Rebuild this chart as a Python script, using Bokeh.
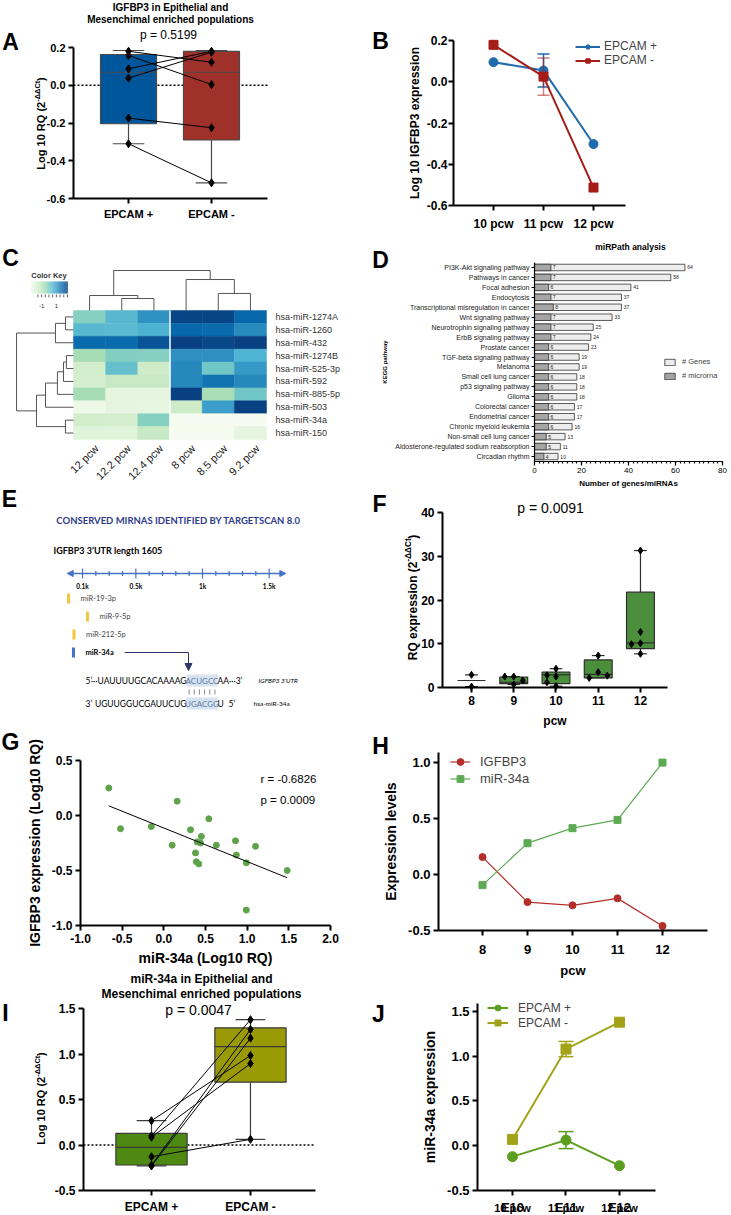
import numpy as np
from bokeh.plotting import figure
from bokeh.models import (Range1d, FixedTicker, Label, Legend, LegendItem, LinearAxis,
                          ColumnDataSource, LinearColorMapper, Arrow, NormalHead,
                          NumeralTickFormatter)
from bokeh.transform import transform
from bokeh.layouts import row, column
from bokeh.embed import file_html
from bokeh.resources import INLINE
from bokeh.core.properties import value

FONT = "Liberation Sans"
EFONT = "Lato"

# ======================= DATA =======================
# ---- Panel A ----
A_groups = ["EPCAM +", "EPCAM -"]
A_title = ["IGFBP3 in Epithelial and", "Mesenchimal enriched populations"]
A_pvalue = "p = 0.5199"
A_epcam_pos = [0.18, 0.158, 0.087, 0.038, -0.174, -0.31]
A_epcam_neg = [0.122, 0.004, 0.18, 0.175, -0.225, -0.517]
A_min = [-0.31, -0.517]
A_q1 = [-0.204, -0.29]
A_median = [0.069, 0.069]
A_q3 = [0.163, 0.179]
A_max = [0.184, 0.184]

# ---- Panel B ----
B_pcw = [10, 11, 12]
B_labels = ["10 pcw", "11 pcw", "12 pcw"]
B_epcam_pos = [0.095, 0.055, -0.302]
B_epcam_pos_err = [0.0, 0.08, 0.0]
B_epcam_neg = [0.179, 0.025, -0.513]
B_epcam_neg_err = [0.0, 0.09, 0.0]

# ---- Panel C ----
C_samples = ["12 pcw", "12.2 pcw", "12.4 pcw", "8 pcw", "8.5 pcw", "9.2 pcw"]
C_mirnas = ["hsa-miR-1274A", "hsa-miR-1260", "hsa-miR-432", "hsa-miR-1274B",
            "hsa-miR-525-3p", "hsa-miR-592", "hsa-miR-885-5p", "hsa-miR-503",
            "hsa-miR-34a", "hsa-miR-150"]
C_z = [
    [-0.15, 0.50, 1.15, 2.40, 2.40, 1.85],
    [0.50, 0.45, 0.65, 1.85, 1.80, 1.25],
    [1.80, 1.80, 2.15, 2.50, 2.35, 2.50],
    [-0.60, -0.10, -0.15, 1.20, 1.20, 0.60],
    [-1.40, 0.30, -1.30, 1.30, 0.15, 1.05],
    [-1.50, -1.15, -1.15, 1.30, 1.65, 1.30],
    [-0.60, -2.00, -2.00, 2.50, -0.65, 0.15],
    [-2.20, -2.00, -2.05, -1.35, 0.95, 2.50],
    [-1.40, -1.50, -0.15, -2.45, -2.45, -2.45],
    [-1.85, -1.85, -1.15, -2.45, -2.45, -2.00],
]
C_col_linkage = [(1, 2, 0.93), (0, 6, 1.16), (4, 5, 1.32), (3, 8, 2.40), (7, 9, 3.10)]
C_row_linkage = [(0, 1, 0.25), (10, 2, 0.56), (3, 4, 0.22), (12, 5, 0.31), (13, 6, 0.50),
                 (14, 7, 0.87), (8, 9, 0.25), (15, 16, 1.15), (11, 17, 1.77)]
C_key_labels = [-1, 1]

# ---- Panel D ----
D_title = "miRPath analysis"
D_pathways = ["PI3K-Akt signaling pathway", "Pathways in cancer", "Focal adhesion", "Endocytosis",
              "Transcriptional misregulation in cancer", "Wnt signaling pathway",
              "Neurotrophin signaling pathway", "ErbB signaling pathway", "Prostate cancer",
              "TGF-beta signaling pathway", "Melanoma", "Small cell lung cancer",
              "p53 signaling pathway", "Glioma", "Colorectal cancer", "Endometrial cancer",
              "Chronic myeloid leukemia", "Non-small cell lung cancer",
              "Aldosterone-regulated sodium reabsorption", "Circadian rhythm"]
D_genes = [64, 58, 41, 37, 37, 33, 25, 24, 23, 19, 19, 18, 18, 18, 17, 17, 16, 13, 11, 10]
D_mirna = [7, 7, 6, 7, 8, 7, 7, 7, 6, 6, 6, 6, 6, 6, 6, 6, 6, 5, 5, 4]

# ---- Panel E ----
E_title = "CONSERVED MIRNAS IDENTIFIED BY TARGETSCAN 8.0"
E_gene = "IGFBP3"
E_utr_len = 1605
E_scale_ticks = list(range(100, 1600, 100))
E_scale_major = [100, 500, 1000, 1500]
E_scale_labels = ["0.1k", "0.5k", "1k", "1.5k"]
E_sites = ["miR-19-3p", "miR-9-5p", "miR-212-5p", "miR-34a"]
E_site_pos = [-5, 137, 36, 32]
E_focus = "miR-34a"
E_utr_left, E_utr_seed, E_utr_right = "···UAUUUUGCACAAAAG", "ACUGCC", "AA···3’"
E_mir_left, E_mir_seed, E_mir_right = "UGUUGGUCGAUUCUG", "UGACGG", "U"

# ---- Panel F ----
F_pcw = [8, 9, 10, 11, 12]
F_pvalue = "p = 0.0091"
F_points = [[2.9, 0.2], [2.5, 2.5, 1.6, 0.7], [4.3, 2.5, 2.8, 1.2, 0.3],
            [7.3, 3.5, 2.2, 2.7], [31.3, 12.7, 10.1, 9.9, 7.7]]
F_min = [0.2, 0.7, 0.3, 2.2, 7.7]
F_q1 = [0.2, 0.9, 0.9, 2.2, 8.9]
F_median = [1.6, 1.2, 2.9, 3.0, 10.2]
F_q3 = [2.9, 2.4, 3.5, 6.3, 21.8]
F_max = [2.9, 2.5, 4.3, 7.3, 31.3]

# ---- Panel G ----
G_mir34a = [-0.66, -0.52, -0.15, 0.16, 0.10, 0.32, 0.54, 0.45, 0.40, 0.44,
            0.38, 0.39, 0.42, 0.63, 0.86, 0.87, 0.99, 1.10, 1.48, 0.99]
G_igfbp3 = [0.25, -0.12, -0.10, 0.13, -0.27, -0.13, -0.03, -0.19, -0.24, -0.25,
            -0.34, -0.42, -0.44, -0.27, -0.23, -0.36, -0.43, -0.28, -0.50, -0.86]
G_r = "r = -0.6826"
G_p = "p = 0.0009"

# ---- Panel H ----
H_pcw = [8, 9, 10, 11, 12]
H_igfbp3 = [0.156, -0.246, -0.275, -0.213, -0.459]
H_mir34a = [-0.095, 0.28, 0.414, 0.488, 1.0]

# ---- Panel I ----
I_title = ["miR-34a in Epithelial and", "Mesenchimal enriched populations"]
I_pvalue = "p = 0.0047"
I_epcam_pos = [0.267, 0.10, 0.085, -0.129, -0.222, -0.23]
I_epcam_neg = [0.983, 1.377, 0.895, 0.062, 1.27, 1.174]
I_min = [-0.23, 0.062]
I_q1 = [-0.22, 0.69]
I_median = [-0.026, 1.082]
I_q3 = [0.128, 1.288]
I_max = [0.267, 1.377]

# ---- Panel J ----
J_pcw = [10, 11, 12]
J_labels = ["10 pcw", "11 pcw", "12 pcw"]
J_stage = ["E10", "E11", "E12"]
J_epcam_pos = [-0.122, 0.063, -0.223]
J_epcam_pos_err = [0.0, 0.095, 0.0]
J_epcam_neg = [0.071, 1.08, 1.38]
J_epcam_neg_err = [0.0, 0.085, 0.0]

# ======================= HELPERS =======================
AB = {' ': .278, '(': .333, ')': .333, '-': .333, '.': .278, 'Δ': .7,
      'A': .722, 'B': .722, 'C': .722, 'D': .722, 'E': .667, 'F': .611, 'G': .778,
      'I': .278, 'L': .611, 'M': .833, 'P': .667, 'Q': .778, 'R': .722,
      'a': .556, 'b': .611, 'c': .556, 'd': .611, 'e': .556, 'g': .611, 'h': .611,
      'i': .278, 'k': .556, 'l': .278, 'm': .889, 'n': .611, 'o': .611, 'p': .611,
      'r': .389, 's': .556, 't': .333, 'u': .611, 'x': .556}
for _c in "0123456789":
    AB[_c] = .556


def tw(s, size):
    return sum(AB.get(c, 0.6) for c in s) * size


def make_fig(W, H, L, T, FW, FH, xr, yr):
    """Whole cell is the drawing frame; (L, T, FW, FH) is the data box whose
    edges carry the axes (fixed_location), xr / yr its data ranges."""
    sx = (xr[1] - xr[0]) / FW
    sy = (yr[1] - yr[0]) / FH
    cx0, cx1 = xr[0] - L * sx, xr[1] + (W - L - FW) * sx
    cy0, cy1 = yr[0] - (H - T - FH) * sy, yr[1] + T * sy
    p = figure(width=W, height=H, x_range=Range1d(cx0, cx1), y_range=Range1d(cy0, cy1),
               output_backend="svg", toolbar_location=None, x_axis_type=None, y_axis_type=None,
               min_border_left=0, min_border_right=0, min_border_top=0, min_border_bottom=0)
    p.frame_align = False
    p.outline_line_color = None
    p.background_fill_color = "white"
    p.border_fill_color = "white"
    g = dict(sx=sx, sy=sy, cx0=cx0, cy1=cy1, fx0=xr[0], fx1=xr[1], fy0=yr[0], fy1=yr[1])
    return p, g


def d(g, lx, ly):
    return g["cx0"] + lx * g["sx"], g["cy1"] - ly * g["sy"]


def lab(p, g, lx, ly, text, size, bold=False, align="center", color="black",
        font=FONT, angle=0.0, italic=False, baseline="middle"):
    x, y = d(g, lx, ly)
    style = "bold" if bold else "normal"
    if italic:
        style = "bold italic" if bold else "italic"
    p.add_layout(Label(x=x, y=y, text=text, text_font=font, text_font_size=f"{size}px",
                       text_font_style=style, text_align=align, text_baseline=baseline,
                       text_color=color, angle=angle))


def letter(p, g, lx, ly, t):
    lab(p, g, lx, ly, t, 23, bold=True)


def vlabel(p, g, cx, cy, parts, size):
    total = sum(tw(t, size * sc) for t, sc, dx in parts)
    y = cy + total / 2
    for t, sc, dx in parts:
        x0, y0 = d(g, cx + dx, y)
        p.add_layout(Label(x=x0, y=y0, text=t, angle=np.pi / 2, text_align="left",
                           text_baseline="middle", text_font=FONT, text_font_style="bold",
                           text_font_size=f"{size * sc:.1f}px", text_color="black"))
        y -= tw(t, size * sc)


def add_axis(p, g, side, ticks, size="12px", bold=True, lw=2, tick_out=5, standoff=3,
             label=None, label_size="12px", label_standoff=5, overrides=None, fmt=None,
             minor=None, label_color="black"):
    if side == "left":
        ax = LinearAxis(fixed_location=g["fx0"], bounds=(g["fy0"], g["fy1"]))
    else:
        ax = LinearAxis(fixed_location=g["fy0"], bounds=(g["fx0"], g["fx1"]))
    ax.ticker = FixedTicker(ticks=list(ticks), minor_ticks=list(minor) if minor else [])
    if overrides:
        ax.major_label_overrides = overrides
    if fmt:
        ax.formatter = NumeralTickFormatter(format=fmt)
    if label:
        ax.axis_label = label
    ax.axis_line_width = lw
    ax.axis_line_color = "black"
    ax.major_tick_line_width = lw
    ax.major_tick_line_color = "black"
    ax.major_tick_out = tick_out
    ax.major_tick_in = 0
    if minor:
        ax.minor_tick_line_color = "black"
        ax.minor_tick_out = max(2, tick_out // 2)
        ax.minor_tick_in = 0
        ax.minor_tick_line_width = lw
    else:
        ax.minor_tick_line_color = None
    ax.major_label_text_font = FONT
    ax.major_label_text_font_size = size
    ax.major_label_text_font_style = "bold" if bold else "normal"
    ax.major_label_text_color = label_color
    ax.major_label_standoff = standoff
    ax.axis_label_text_font = FONT
    ax.axis_label_text_font_style = "bold"
    ax.axis_label_text_font_size = label_size
    ax.axis_label_text_color = "black"
    ax.axis_label_standoff = label_standoff
    p.add_layout(ax, side)
    return ax


def draw_box(p, xs, mn, q1, md, q3, mx, bw, capw, fills, counts, lc="#333333", lw=1.2):
    xs = np.asarray(xs, float)
    mn, q1, md, q3, mx = (np.asarray(v, float) for v in (mn, q1, md, q3, mx))
    full = np.array([c >= 3 for c in counts])
    fx = xs[full]
    p.segment(x0=fx, y0=q3[full], x1=fx, y1=mx[full], line_color=lc, line_width=lw)
    p.segment(x0=fx, y0=mn[full], x1=fx, y1=q1[full], line_color=lc, line_width=lw)
    p.vbar(x=fx, width=bw, bottom=q1[full], top=q3[full],
           fill_color=[fills[i] for i in np.where(full)[0]], line_color=lc, line_width=lw)
    p.segment(x0=xs - bw / 2, y0=md, x1=xs + bw / 2, y1=md, line_color=lc, line_width=lw)
    p.segment(x0=xs - capw / 2, y0=mx, x1=xs + capw / 2, y1=mx, line_color=lc, line_width=lw)
    p.segment(x0=xs - capw / 2, y0=mn, x1=xs + capw / 2, y1=mn, line_color=lc, line_width=lw)


def errbars(p, xs, ys, errs, capw, color, alpha=1.0, lw=1.5):
    sel = [i for i, e in enumerate(errs) if e > 0]
    x = np.array([xs[i] for i in sel], float)
    lo = np.array([ys[i] - errs[i] for i in sel])
    hi = np.array([ys[i] + errs[i] for i in sel])
    p.segment(x0=x, y0=lo, x1=x, y1=hi, line_color=color, line_width=lw, line_alpha=alpha)
    p.segment(x0=x - capw / 2, y0=hi, x1=x + capw / 2, y1=hi, line_color=color, line_width=lw, line_alpha=alpha)
    p.segment(x0=x - capw / 2, y0=lo, x1=x + capw / 2, y1=lo, line_color=color, line_width=lw, line_alpha=alpha)


def swarm_offsets(vals, ppu_y, ppu_x, dmin=8.0, step=10.0):
    placed, offs = [], []
    for v in vals:
        yy = v * ppu_y
        xx = 0.0
        for c in [0, -1, 1, -2, 2, -3, 3]:
            xx = c * step
            if all((xx - a) ** 2 + (yy - b) ** 2 >= dmin ** 2 for a, b in placed):
                break
        placed.append((xx, yy))
        offs.append(xx / ppu_x)
    return offs


def make_legend(items, loc, size, gw, gh, standoff, spacing=0):
    leg = Legend(items=[LegendItem(label=l, renderers=r) for l, r in items], location=loc)
    leg.background_fill_alpha = 0
    leg.border_line_color = None
    leg.padding = 0
    leg.margin = 0
    leg.spacing = spacing
    leg.glyph_width = gw
    leg.glyph_height = gh
    leg.label_height = gh
    leg.label_standoff = standoff
    leg.label_text_font = FONT
    leg.label_text_font_size = size
    leg.label_text_baseline = "middle"
    return leg


def hline_dotted(p, g, y):
    p.segment(x0=[g["fx0"]], y0=[y], x1=[g["fx1"]], y1=[y], line_color="black",
              line_width=1.5, line_dash="2 2")


# ======================= PANEL A =======================
pA, gA = make_fig(370, 230, 73, 47, 194, 151, (0.337, 2.675), (-0.6, 0.2))
A_x = [1, 2]
hline_dotted(pA, gA, 0)
draw_box(pA, A_x, A_min, A_q1, A_median, A_q3, A_max, 0.675, 0.38,
         ["#00569B", "#A0302A"], [len(A_epcam_pos), len(A_epcam_neg)], lc="#4a4a4a")
pA.multi_line(xs=[[1, 2]] * len(A_epcam_pos),
              ys=[[a, b] for a, b in zip(A_epcam_pos, A_epcam_neg)], line_color="black", line_width=1)
pA.scatter([1] * len(A_epcam_pos), A_epcam_pos, marker="diamond", size=8, color="black")
pA.scatter([2] * len(A_epcam_neg), A_epcam_neg, marker="diamond", size=8, color="black")
add_axis(pA, gA, "below", A_x, "11px", standoff=4, overrides={1: A_groups[0], 2: A_groups[1]})
add_axis(pA, gA, "left", [-0.6, -0.4, -0.2, 0.0, 0.2], "11px", standoff=3, fmt="0.0")
letter(pA, gA, 10, 41, "A")
lab(pA, gA, 170, 7, A_title[0], 10, bold=True)
lab(pA, gA, 170, 19, A_title[1], 10, bold=True)
lab(pA, gA, 168, 34, A_pvalue, 12)
vlabel(pA, gA, 40, 123, [("Log 10 RQ (2", 1, 0), ("-ΔΔCt", 0.68, -3.5), (")", 1, 0)], 11)

# ======================= PANEL B =======================
pB, gB = make_fig(361, 235, 83, 40, 172, 165, (9.2, 12.64), (-0.6, 0.2))
blueB, redB = "#1F6BAD", "#A51D17"
lb = pB.line(B_pcw, B_epcam_pos, line_color=blueB, line_width=2)
errbars(pB, B_pcw, B_epcam_pos, B_epcam_pos_err, 0.24, blueB)
sb = pB.scatter(B_pcw, B_epcam_pos, marker="circle", size=9, color=blueB)
lr = pB.line(B_pcw, B_epcam_neg, line_color=redB, line_width=2)
errbars(pB, B_pcw, B_epcam_neg, B_epcam_neg_err, 0.24, redB, alpha=0.55)
sr = pB.scatter(B_pcw, B_epcam_neg, marker="square", size=9, color=redB)
add_axis(pB, gB, "below", B_pcw, "12px", standoff=6, overrides=dict(zip(B_pcw, B_labels)))
add_axis(pB, gB, "left", [-0.6, -0.4, -0.2, 0.0, 0.2], "12px", standoff=1, fmt="0.0",
         label="Log 10 IGFBP3 expression", label_size="12px", label_standoff=2)
pB.add_layout(make_legend([("EPCAM +", [lb, sb]), ("EPCAM -", [lr, sr])], (205, 168), "12px", 25, 11, 4))
letter(pB, gB, 10, 40, "B")

# ======================= PANEL C =======================
pC, gC = make_fig(370, 255, 0, 0, 370, 255, (-2.269, 9.232), (-3.566, 16.2))
nrow, ncol = len(C_mirnas), len(C_samples)
hx, hy, hz = [], [], []
for i in range(nrow):
    for j in range(ncol):
        hx.append(j + 0.5)
        hy.append(nrow - 1 - i + 0.5)
        hz.append(C_z[i][j])
gnbu = ['#f7fcf0', '#e0f3db', '#ccebc5', '#a8ddb5', '#7bccc4', '#4eb3d3', '#2b8cbe', '#0868ac', '#084081']
rgb = np.array([[int(c[k:k + 2], 16) for k in (1, 3, 5)] for c in gnbu], float)
tk = np.linspace(0, 1, len(gnbu))
PAL = ['#%02x%02x%02x' % tuple(int(round(np.interp(t, tk, rgb[:, k]))) for k in range(3))
       for t in np.linspace(0, 1, 128)]
mapper = LinearColorMapper(palette=PAL, low=-2.5, high=2.5)
srcC = ColumnDataSource(dict(x=hx, y=hy, z=hz))
pC.rect("x", "y", 1, 1, source=srcC, fill_color=transform("z", mapper),
        line_color=transform("z", mapper), line_width=0.5)


def leaves(link, n, node):
    if node < n:
        return [node]
    a, b, h = link[node - n]
    return leaves(link, n, a) + leaves(link, n, b)


sep = len(leaves(C_col_linkage, ncol, C_col_linkage[-1][0]))
pC.segment(x0=[sep], y0=[0], x1=[sep], y1=[nrow], line_color="white", line_width=1.5)


def dendro(link, n, leafpos):
    pos = {i: leafpos[i] for i in range(n)}
    hgt = {i: 0.0 for i in range(n)}
    segs = []
    for k, (a, b, h) in enumerate(link):
        for c in (a, b):
            segs.append((pos[c], hgt[c], pos[c], h))
        segs.append((pos[a], h, pos[b], h))
        pos[n + k] = (pos[a] + pos[b]) / 2
        hgt[n + k] = h
    return segs


cs = dendro(C_col_linkage, ncol, [j + 0.5 for j in range(ncol)])
pC.segment(x0=[s[0] for s in cs], y0=[nrow + s[1] for s in cs], x1=[s[2] for s in cs],
           y1=[nrow + s[3] for s in cs], line_color="#555555", line_width=1)
rs = dendro(C_row_linkage, nrow, [nrow - 1 - i + 0.5 for i in range(nrow)])
pC.segment(x0=[-s[1] for s in rs], y0=[s[0] for s in rs], x1=[-s[3] for s in rs],
           y1=[s[2] for s in rs], line_color="#555555", line_width=1)
pC.text(x=[ncol + 0.28] * nrow, y=[nrow - 1 - i + 0.5 for i in range(nrow)], text=C_mirnas,
        text_font=value(FONT), text_font_size="9px", text_baseline="middle", text_color="#333333")
pC.text(x=[j + 0.72 for j in range(ncol)], y=[-0.55] * ncol, text=C_samples, angle=np.pi / 4,
        text_align="right", text_baseline="middle", text_font=value(FONT),
        text_font_size="11px", text_color="#222222")
# colour key
kx0, kx1, ky0, ky1 = -1.337, -0.187, 11.32, 12.25
kz = np.linspace(-2.5, 2.5, 60)
kxs = kx0 + (kz + 2.5) / 5 * (kx1 - kx0)
srcK = ColumnDataSource(dict(x=kxs, z=kz))
pC.rect("x", (ky0 + ky1) / 2, (kx1 - kx0) / 60 * 1.1, ky1 - ky0, source=srcK,
        fill_color=transform("z", mapper), line_color=None)
ktz = np.arange(-1.5, 2.51, 0.5)
ktx = kx0 + (ktz + 2.5) / 5 * (kx1 - kx0)
pC.segment(x0=ktx, y0=[11.24] * len(ktx), x1=ktx, y1=[11.02] * len(ktx), line_color="#333333", line_width=0.8)
klx = [kx0 + (v + 2.5) / 5 * (kx1 - kx0) for v in C_key_labels]
pC.text(x=klx, y=[10.35] * len(klx), text=[str(v) for v in C_key_labels], text_font=value(FONT),
        text_font_size="6px", text_align="center", text_baseline="middle", text_color="#333333")
pC.text(x=[(kx0 + kx1) / 2], y=[12.7], text=["Color Key"], text_font=value(FONT),
        text_font_size="7.5px", text_font_style="bold", text_align="center",
        text_baseline="middle", text_color="#333333")
letter(pC, gC, 10, 27, "C")

# ======================= PANEL D =======================
pD, gD = make_fig(361, 255, 164, 27, 188, 199, (0, 80), (-0.5, len(D_pathways) - 0.5))
dy = np.arange(len(D_pathways))[::-1]
rg = pD.hbar(y=dy, left=0, right=D_genes, height=0.65, fill_color="#EDEDED",
             line_color="#333333", line_width=0.8)
rm = pD.hbar(y=dy, left=0, right=D_mirna, height=0.65, fill_color="#A5A5A5",
             line_color="#333333", line_width=0.8)
pD.text(x=np.array(D_genes) + 1.0, y=dy, text=[str(v) for v in D_genes], text_font=value(FONT),
        text_font_size="5px", text_baseline="middle", text_color="#222222")
pD.text(x=np.array(D_mirna) + 0.8, y=dy, text=[str(v) for v in D_mirna], text_font=value(FONT),
        text_font_size="5px", text_baseline="middle", text_color="#222222")
add_axis(pD, gD, "left", [int(v) for v in dy], "7px", bold=False, lw=1.2, tick_out=3, standoff=2,
         overrides={int(y): n for y, n in zip(dy, D_pathways)}, label="KEGG pathway",
         label_size="6px", label_standoff=4, label_color="#222222")
add_axis(pD, gD, "below", [0, 20, 40, 60, 80], "8px", bold=False, lw=1.2, tick_out=4, standoff=2,
         minor=range(0, 81, 2), label="Number of genes/miRNAs", label_size="8px", label_standoff=3)
pD.add_layout(make_legend([("# Genes", [rg]), ("# microrna", [rm])], (293, 110), "7.5px", 13, 8, 6, spacing=5))
lab(pD, gD, 260, 11, D_title, 8.5, bold=True)
letter(pD, gD, 10, 24, "D")

# ======================= PANEL E =======================
pE, gE = make_fig(370, 230, 0, 0, 370, 230, (-515.4, 2260.3), (230, 0))
navy = "#2E3C8C"
lineblue = "#4472C4"
ppx = gE["sx"]   # nt per pixel


def ex(lx):
    return d(gE, lx, 0)[0]


letter(pE, gE, 9, 13, "E")
pE.text(x=[ex(178)], y=[35], text=[E_title], text_font=value(EFONT), text_font_size="9.5px",
        text_font_style="bold", text_align="center", text_baseline="middle", text_color=navy)
pE.text(x=[ex(53)], y=[65], text=[f"{E_gene} 3’UTR length {E_utr_len}"], text_font=value(EFONT),
        text_font_size="9px", text_font_style="bold", text_baseline="middle", text_color="black")
y_line = 88
pE.add_layout(Arrow(start=NormalHead(size=6, fill_color=lineblue, line_color=lineblue),
                    end=NormalHead(size=6, fill_color=lineblue, line_color=lineblue),
                    x_start=E_scale_ticks[0] - 115, y_start=y_line, x_end=E_utr_len + 20, y_end=y_line,
                    line_color=lineblue, line_width=1.5))
th = [5 if t in E_scale_major else 2.5 for t in E_scale_ticks]
pE.segment(x0=E_scale_ticks, y0=[y_line - h for h in th], x1=E_scale_ticks, y1=[y_line + h for h in th],
           line_color=lineblue, line_width=1.2)
pE.text(x=E_scale_major, y=[y_line + 13] * len(E_scale_major), text=E_scale_labels,
        text_font=value(EFONT), text_font_size="6.5px", text_font_style="bold",
        text_align="center", text_baseline="middle", text_color="black")
site_y = [113 + 18 * k for k in range(len(E_sites))]
site_col = [lineblue if s == E_focus else "#F5C542" for s in E_sites]
pE.rect(x=E_site_pos, y=site_y, width=3, width_units="screen", height=10, fill_color=site_col,
        line_color=None)
for s, xpos, yy in zip(E_sites, E_site_pos, site_y):
    focus = s == E_focus
    pE.text(x=[xpos + 12 * ppx], y=[yy], text=[s], text_font=value(EFONT), text_font_size="7.5px",
            text_font_style="bold" if focus else "normal", text_baseline="middle",
            text_color="black" if focus else "#444444")
    if focus:
        x_start = xpos + (12 + tw(s, 7.5) + 10) * ppx
        x_turn = ex(188)
        pE.segment(x0=[x_start], y0=[yy], x1=[x_turn], y1=[yy], line_color="#2B3A6B", line_width=1)
        pE.add_layout(Arrow(end=NormalHead(size=7, fill_color="#2B3A6B", line_color="#2B3A6B"),
                            x_start=x_turn, y_start=yy, x_end=x_turn, y_end=yy + 18,
                            line_color="#2B3A6B", line_width=1))
hl0, hl1 = 186, 217
y1s, y2s = 195, 218
pE.quad(left=[ex(hl0)] * 2, right=[ex(hl1)] * 2, top=[y1s - 6, y2s - 6], bottom=[y1s + 6, y2s + 6],
        fill_color="#D8E3F0", line_color=None)
seq_kw = dict(text_font=value(EFONT), text_font_size="8.5px", text_baseline="middle")
pE.text(x=[ex(85), ex(85)], y=[y1s, y2s], text=["5’", "3’"], text_color="black", **seq_kw)
pE.text(x=[ex(hl0), ex(hl0)], y=[y1s, y2s], text=[E_utr_left, E_mir_left], text_align="right",
        text_color="black", **seq_kw)
pE.text(x=[ex((hl0 + hl1) / 2)] * 2, y=[y1s, y2s], text=[E_utr_seed, E_mir_seed], text_align="center",
        text_color="#5B7BA8", text_font=value(EFONT), text_font_size="8px", text_baseline="middle")
pE.text(x=[ex(hl1), ex(hl1)], y=[y1s, y2s], text=[E_utr_right, E_mir_right], text_color="black", **seq_kw)
pE.text(x=[ex(228)], y=[y2s], text=["5’"], text_color="black", **seq_kw)
pE.text(x=[ex(258)], y=[y1s], text=[f"{E_gene} 3’UTR"], text_font=value(EFONT), text_font_size="6.5px",
        text_font_style="italic", text_baseline="middle", text_color="black")
pE.text(x=[ex(253)], y=[y2s], text=["hsa-" + E_focus], text_font=value(EFONT), text_font_size="6.5px",
        text_baseline="middle", text_color="black")
npair = len(E_utr_seed)
pxs = [ex(hl0 + (k + 0.5) * (hl1 - hl0) / npair) for k in range(npair)]
pE.segment(x0=pxs, y0=[y1s + 9] * npair, x1=pxs, y1=[y2s - 9] * npair, line_color="#888888", line_width=1)

# ======================= PANEL F =======================
pF, gF = make_fig(361, 242, 72, 22, 225, 175, (7.313, 12.64), (0, 40))
greenF = "#4B8F3C"
draw_box(pF, F_pcw, F_min, F_q1, F_median, F_q3, F_max, 0.66, 0.3, [greenF] * len(F_pcw),
         [len(v) for v in F_points], lc="#2e2e2e")
fx, fy = [], []
for xc, vals in zip(F_pcw, F_points):
    offs = swarm_offsets(vals, 175 / 40, 225 / (12.64 - 7.313), dmin=7, step=9)
    fx += [xc + o for o in offs]
    fy += vals
pF.scatter(fx, fy, marker="diamond", size=7, color="black")
add_axis(pF, gF, "below", F_pcw, "12px", standoff=3, label="pcw", label_size="12px", label_standoff=6)
add_axis(pF, gF, "left", [0, 10, 20, 30, 40], "12px", standoff=3)
letter(pF, gF, 9, 13, "F")
lab(pF, gF, 180, 17, F_pvalue, 14)
vlabel(pF, gF, 42, 107, [("RQ expression (2", 1, 0), ("-ΔΔCt", 0.68, -4), (")", 1, 0)], 12)

# ======================= PANEL G =======================
pG, gG = make_fig(370, 255, 80, 45, 250, 165, (-1, 2), (-1, 0.5))
pG.scatter(G_mir34a, G_igfbp3, marker="circle", size=6, color="#5EA34A")
slope, icpt = np.polyfit(G_mir34a, G_igfbp3, 1)
gx = np.array([min(G_mir34a), max(G_mir34a)])
pG.line(gx, slope * gx + icpt, line_color="black", line_width=1)
add_axis(pG, gG, "below", [-1, -0.5, 0, 0.5, 1, 1.5, 2], "12px", standoff=3, fmt="0.0",
         label="miR-34a (Log10 RQ)", label_size="14px", label_standoff=4)
add_axis(pG, gG, "left", [-1, -0.5, 0, 0.5], "12px", standoff=3, fmt="0.0",
         label="IGFBP3 expression (Log10 RQ)", label_size="14px", label_standoff=6)
letter(pG, gG, 10, 26, "G")
lab(pG, gG, 260, 63, G_r, 11.5, align="left")
lab(pG, gG, 260, 84, G_p, 11.5, align="left")

# ======================= PANEL H =======================
pH, gH = make_fig(361, 253, 68, 20, 269, 178, (7.022, 13.0), (-0.5, 1.09))
redH, greenH = "#B52E2A", "#5DAA55"
l1 = pH.line(H_pcw, H_igfbp3, line_color=redH, line_width=1.2)
s1 = pH.scatter(H_pcw, H_igfbp3, marker="circle", size=7, color=redH)
l2 = pH.line(H_pcw, H_mir34a, line_color=greenH, line_width=1.2)
s2 = pH.scatter(H_pcw, H_mir34a, marker="square", size=7, color=greenH)
add_axis(pH, gH, "below", H_pcw, "13px", standoff=9, label="pcw", label_size="13px", label_standoff=6)
add_axis(pH, gH, "left", [-0.5, 0, 0.5, 1.0], "13px", standoff=3, fmt="0.0",
         label="Expression levels", label_size="14px", label_standoff=6)
pH.add_layout(make_legend([("IGFBP3", [l1, s1]), ("miR-34a", [l2, s2])], (80, 198), "13px", 20, 17, 10))
letter(pH, gH, 10, 13, "H")

# ======================= PANEL I =======================
pI, gI = make_fig(370, 245, 83, 38, 232, 182, (0.313, 2.657), (-0.5, 1.5))
I_x = [1, 2]
hline_dotted(pI, gI, 0)
draw_box(pI, I_x, I_min, I_q1, I_median, I_q3, I_max, 0.72, 0.3, ["#4E8A12", "#9A9A06"],
         [len(I_epcam_pos), len(I_epcam_neg)], lc="#3a3a3a")
pI.multi_line(xs=[[1, 2]] * len(I_epcam_pos), ys=[[a, b] for a, b in zip(I_epcam_pos, I_epcam_neg)],
              line_color="black", line_width=1)
pI.scatter([1] * len(I_epcam_pos), I_epcam_pos, marker="diamond", size=8, color="black")
pI.scatter([2] * len(I_epcam_neg), I_epcam_neg, marker="diamond", size=8, color="black")
add_axis(pI, gI, "below", I_x, "12px", standoff=4, overrides={1: A_groups[0], 2: A_groups[1]})
add_axis(pI, gI, "left", [-0.5, 0, 0.5, 1.0, 1.5], "12px", standoff=3, fmt="0.0")
letter(pI, gI, 5, 42, "I")
lab(pI, gI, 201, 8, I_title[0], 12, bold=True)
lab(pI, gI, 201, 23, I_title[1], 12, bold=True)
lab(pI, gI, 198, 39, I_pvalue, 14)
vlabel(pI, gI, 40, 128, [("Log 10 RQ (2", 1, 0), ("-ΔΔCt", 0.68, -3.5), (")", 1, 0)], 11)

# ======================= PANEL J =======================
pJ, gJ = make_fig(361, 230, 107, 18, 178, 187, (9.346, 12.673), (-0.5, 1.589))
gJc, oJ = "#5C9E1F", "#A3A31A"
jl1 = pJ.line(J_pcw, J_epcam_pos, line_color=gJc, line_width=2)
errbars(pJ, J_pcw, J_epcam_pos, J_epcam_pos_err, 0.28, gJc)
js1 = pJ.scatter(J_pcw, J_epcam_pos, marker="circle", size=10, color=gJc)
jl2 = pJ.line(J_pcw, J_epcam_neg, line_color=oJ, line_width=2)
errbars(pJ, J_pcw, J_epcam_neg, J_epcam_neg_err, 0.28, oJ)
js2 = pJ.scatter(J_pcw, J_epcam_neg, marker="square", size=10, color=oJ)
add_axis(pJ, gJ, "below", J_pcw, "11px", standoff=6, overrides=dict(zip(J_pcw, J_labels)))
add_axis(pJ, gJ, "left", [-0.5, 0, 0.5, 1.0, 1.5], "13px", standoff=3, fmt="0.0",
         label="miR-34a expression", label_size="14px", label_standoff=6)
pJ.add_layout(make_legend([("EPCAM +", [jl1, js1]), ("EPCAM -", [jl2, js2])], (117, 185), "12px", 21, 15, 10))
for xc, st in zip(J_pcw, J_stage):
    pJ.add_layout(Label(x=xc, y=d(gJ, 0, 222)[1], text=st, text_font=FONT, text_font_size="13px",
                        text_font_style="bold", text_align="center", text_baseline="middle",
                        text_color="black"))
letter(pJ, gJ, 8, 28, "J")

# ======================= LAYOUT =======================
left = column(pA, pC, pE, pG, pI)
right = column(pB, pD, pF, pH, pJ)
layout = row(left, right)
open("out.html", "w").write(file_html(layout, INLINE))
